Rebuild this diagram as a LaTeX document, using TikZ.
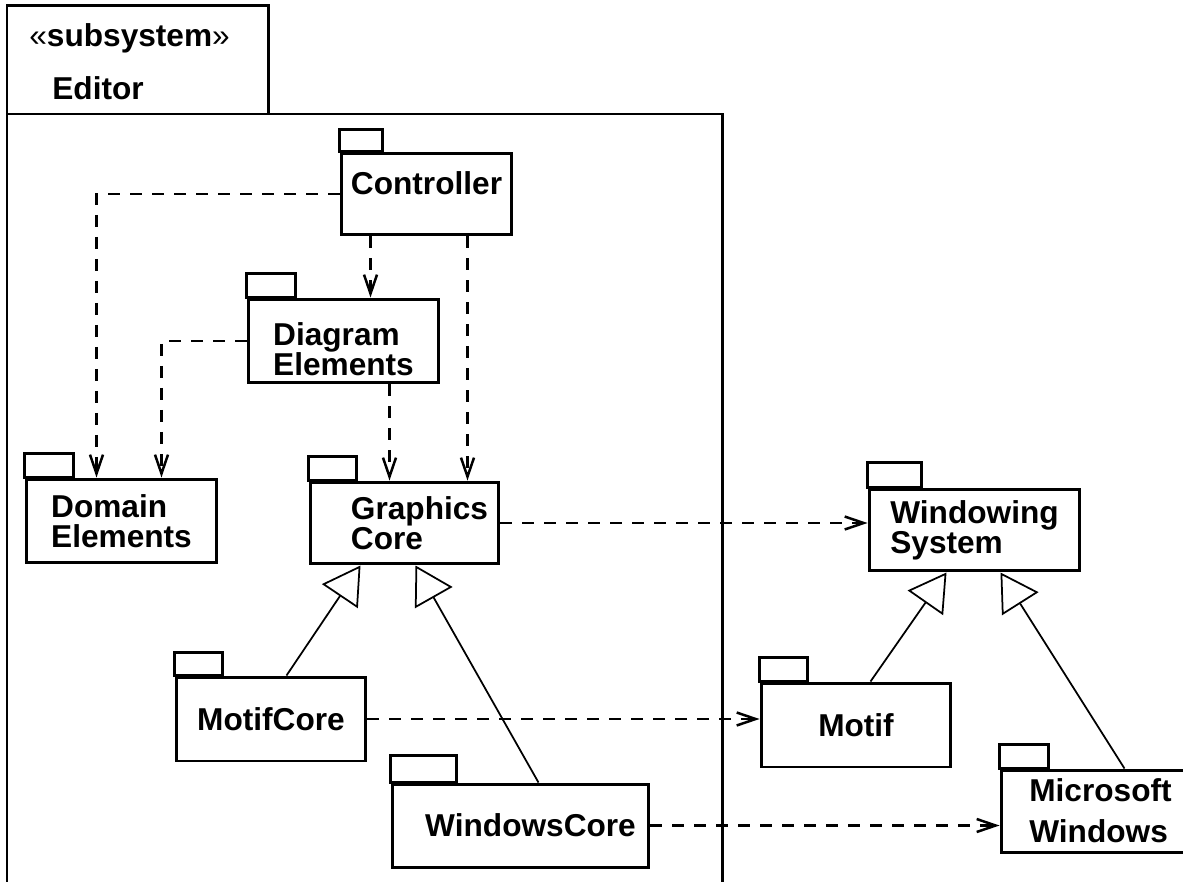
\documentclass[tikz,border=0pt]{standalone}
\usepackage{fontspec}
\setsansfont{Liberation Sans}
\usepackage{tikz}
\usetikzlibrary{arrows.meta,positioning}

\begin{document}
\begin{tikzpicture}[x=0.02cm,y=-0.02cm]
    \tikzstyle{package} = [rectangle, draw=black, line width=0.06cm, inner sep=0pt, align=left,
                font=\sffamily\bfseries\fontsize{18}{17}\selectfont]
    \tikzstyle{tab} = [draw=black, line width=0.045cm]
    \tikzstyle{frame} = [draw=black, line width=0.06cm]
    \tikzstyle{dep} = [line width=0.05cm, dash pattern=on 0.24cm off 0.2cm,
                -{Straight Barb[length=0.38cm,width=0.26cm]}]
    \tikzstyle{gen} = [line width=0.035cm, -{Triangle[open,length=0.74cm,width=0.86cm]}]
    \useasboundingbox (0,0) rectangle (1183,882);
    \clip (0,0) rectangle (1183,882);

    % subsystem frame
    \draw [frame] (7,900) -- (7,6) -- (268,6) -- (268,114);
    \draw [frame] (7,114) -- (722,114) -- (722,900);
    \node (stereo) [anchor=base west, inner sep=0pt, font=\sffamily\fontsize{18}{17}\selectfont] at (29,47) {«\textbf{subsystem}»};
    \node (sysname) [anchor=base west, inner sep=0pt, font=\sffamily\bfseries\fontsize{18}{17}\selectfont] at (52,100) {Editor};

    % packages
    \node (ctrl) [package, minimum width=3.42cm, minimum height=1.64cm, text depth=0.45cm] at (426.5,194) {Controller};
    \node (diag) [package, minimum width=3.82cm, minimum height=1.68cm] at (343.5,341) {\rule{0pt}{0.77cm}Diagram\\Elements};
    \node (domain) [package, minimum width=3.82cm, minimum height=1.68cm] at (121.5,521) {Domain\\Elements};
    \node (gcore) [package, minimum width=3.78cm, minimum height=1.64cm] at (404.5,523) {\hspace*{0.6cm}Graphics\\\hspace*{0.6cm}Core};
    \node (winsys) [package, minimum width=4.22cm, minimum height=1.64cm] at (974.5,530) {Windowing\\System};
    \node (mcore) [package, minimum width=3.80cm, minimum height=1.68cm] at (271,719) {MotifCore};
    \node (wcore) [package, minimum width=5.14cm, minimum height=1.66cm] at (520.5,825.5) {\hspace*{0.4cm}WindowsCore};
    \node (motif) [package, minimum width=3.80cm, minimum height=1.68cm] at (856,725) {Motif};
    \node (mswin) [package, minimum width=3.98cm, minimum height=1.64cm] at (1100.5,811) {Microsoft\\[0.22cm]Windows};

    % tabs
    \foreach \n/\w/\h in {ctrl/43/22, diag/49/24, domain/49/24, gcore/48/24, winsys/54/25,
                          mcore/48/23, wcore/66/27, motif/48/24, mswin/49/24}
        \draw [tab] (\n.north west) rectangle ++(\w,-\h);

    % dependencies
    \coordinate (cd) at ([xshift=0.62cm]ctrl.south west);
    \coordinate (cg) at ([xshift=2.56cm]ctrl.south west);
    \coordinate (dg) at ([xshift=2.86cm]diag.south west);
    \draw [dep] (ctrl.west) -| ([xshift=1.44cm]domain.north west);
    \draw [dep] (cd) -- (cd |- diag.north);
    \draw [dep] (cg) -- (cg |- gcore.north);
    \draw [dep] (diag.west) -| ([xshift=2.74cm]domain.north west);
    \draw [dep] (dg) -- (dg |- gcore.north);
    \draw [dep] (gcore.east) -- (gcore.east -| winsys.west);
    \draw [dep] (mcore.east) -- (mcore.east -| motif.west);
    \draw [dep] (wcore.east) -- (wcore.east -| mswin.west);

    % generalizations
    \draw [gen] ([xshift=2.24cm]mcore.north west) -- ([xshift=1.04cm]gcore.south west);
    \draw [gen] ([xshift=2.96cm]wcore.north west) -- ([xshift=2.14cm]gcore.south west);
    \draw [gen] ([xshift=2.22cm]motif.north west) -- ([xshift=1.58cm]winsys.south west);
    \draw [gen] ([xshift=2.50cm]mswin.north west) -- ([xshift=2.66cm]winsys.south west);
\end{tikzpicture}
\end{document}
